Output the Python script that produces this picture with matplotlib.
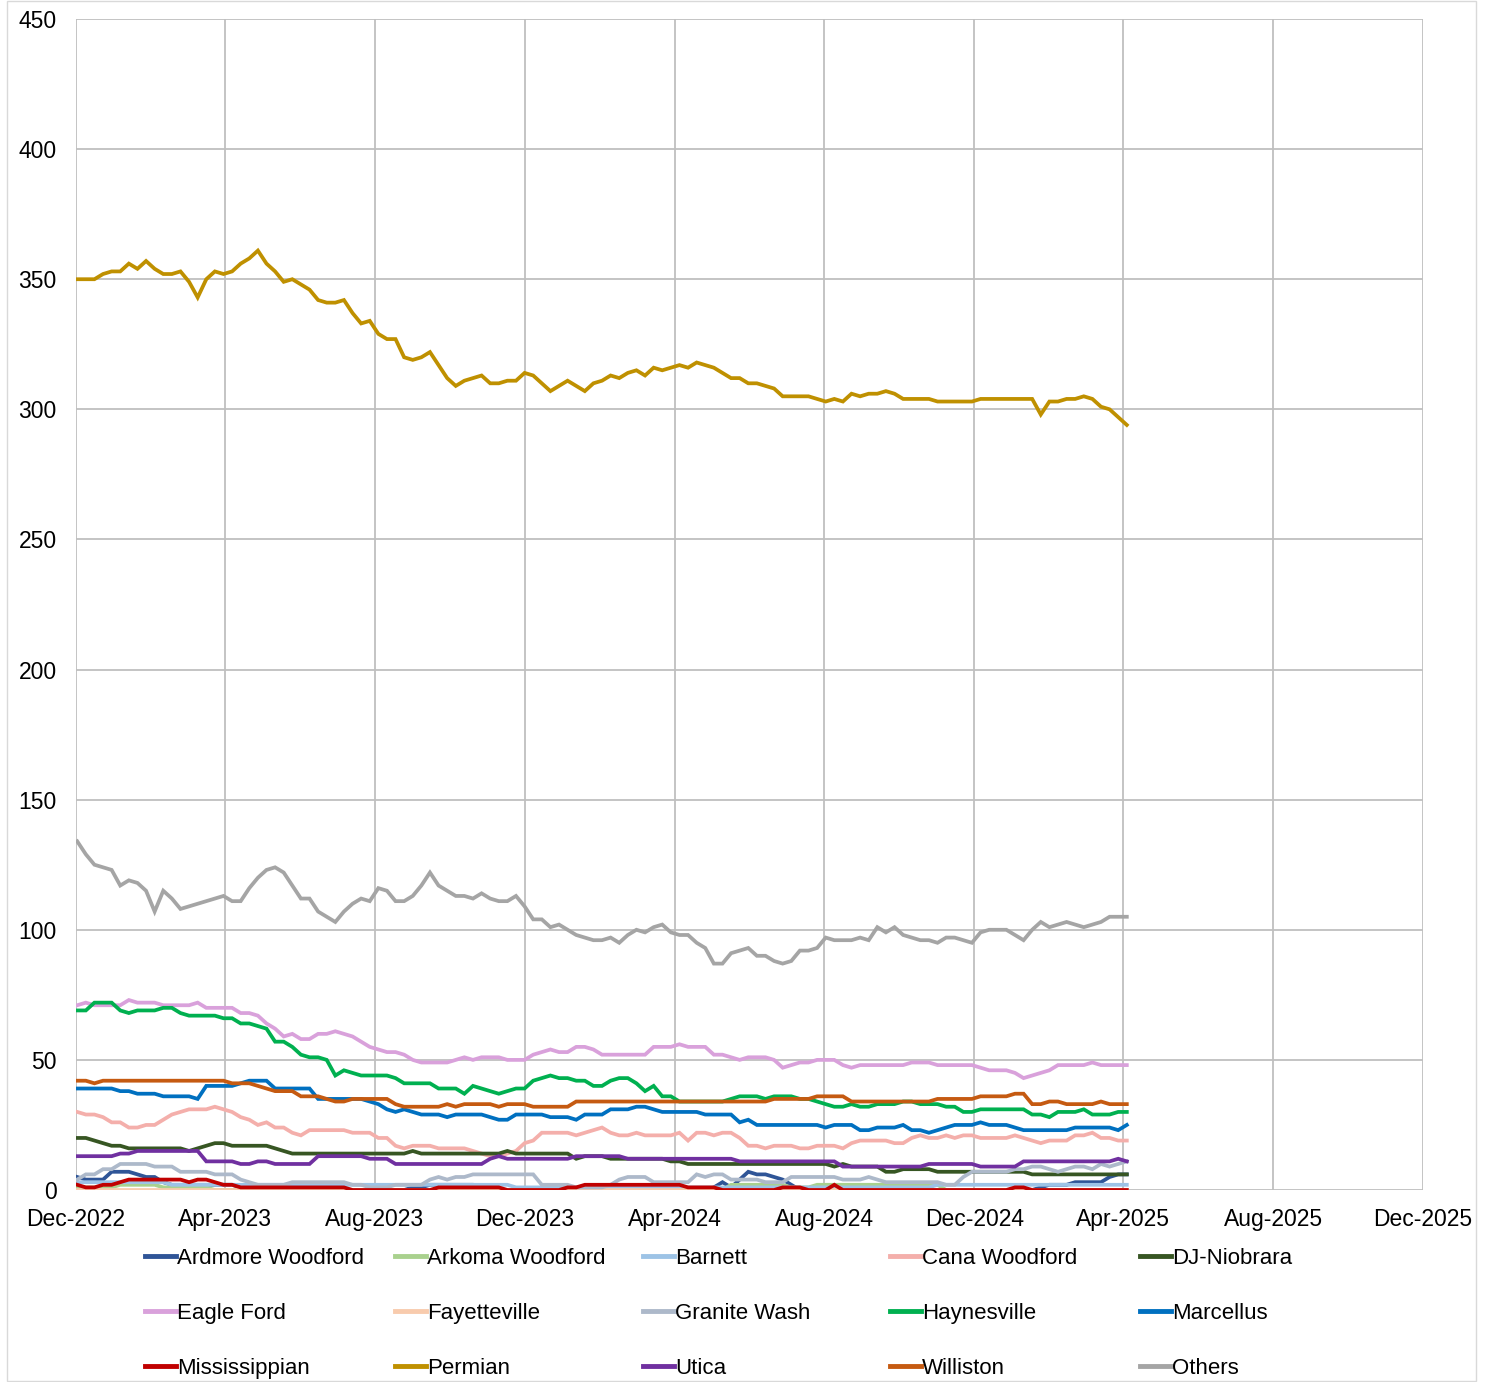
import matplotlib
matplotlib.use("Agg")
import matplotlib.pyplot as plt
import matplotlib.dates as mdates
from matplotlib.patches import Rectangle
import pandas as pd

plt.rcParams['font.family'] = ['Liberation Sans', 'DejaVu Sans']

# weekly rig counts, Dec 2022 - Apr 2025
dates = pd.date_range('2022-12-02', periods=123, freq='7D')

ardmore = ([5, 4, 4, 4, 7, 7, 7, 6, 5, 5, 3] + [2] * 8 + [1] + [0] * 19 + [1, 1] + [2] * 6
           + [0] * 27 + [1, 3, 1, 4, 7, 6, 6, 5, 4, 2] + [0] * 28 + [1] + [2] * 3 + [3] * 4 + [5, 6, 6])
arkoma = ([1] * 5 + [2] * 5 + [1] * 6 + [0] * 60 + [2] * 7 + [1] * 3 + [2] * 15 + [0] * 22)
barnett = [3] * 11 + [2] * 40 + [1] * 49 + [2] * 23
cana = [30, 29, 29, 28, 26, 26, 24, 24, 25, 25, 27, 29, 30, 31, 31, 31, 32, 31, 30, 28,
        27, 25, 26, 24, 24, 22, 21, 23, 23, 23, 23, 23, 22, 22, 22, 20, 20, 17, 16, 17,
        17, 17, 16, 16, 16, 16, 15, 14, 13, 13, 14, 15, 18, 19, 22, 22, 22, 22, 21, 22,
        23, 24, 22, 21, 21, 22, 21, 21, 21, 21, 22, 19, 22, 22, 21, 22, 22, 20, 17, 17,
        16, 17, 17, 17, 16, 16, 17, 17, 17, 16, 18, 19, 19, 19, 19, 18, 18, 20, 21, 20,
        20, 21, 20, 21, 21, 20, 20, 20, 20, 21, 20, 19, 18, 19, 19, 19, 21, 21, 22, 20,
        20, 19, 19]
dj = ([20, 20, 19, 18, 17, 17, 16] + [16] * 6 + [15, 16, 17, 18, 18, 17] + [17] * 4
      + [16, 15, 14] + [14] * 13 + [15, 14] + [14] * 9 + [15, 14] + [14] * 6
      + [12, 13, 13, 13] + [12] * 7 + [11, 11] + [10] * 17 + [9, 10] + [9] * 4 + [7, 7]
      + [8] * 4 + [7] * 11 + [6] * 12)
eagle = [71, 72, 71, 71, 71, 71, 73, 72, 72, 72, 71, 71, 71, 71, 72, 70, 70, 70, 70, 68,
         68, 67, 64, 62, 59, 60, 58, 58, 60, 60, 61, 60, 59, 57, 55, 54, 53, 53, 52, 50,
         49, 49, 49, 49, 50, 51, 50, 51, 51, 51, 50, 50, 50, 52, 53, 54, 53, 53, 55, 55,
         54, 52, 52, 52, 52, 52, 52, 55, 55, 55, 56, 55, 55, 55, 52, 52, 51, 50, 51, 51,
         51, 50, 47, 48, 49, 49, 50, 50, 50, 48, 47, 48, 48, 48, 48, 48, 48, 49, 49, 49,
         48, 48, 48, 48, 48, 47, 46, 46, 46, 45, 43, 44, 45, 46, 48, 48, 48, 48, 49, 48,
         48, 48, 48]
fayetteville = [0] * 123
granite = [4, 6, 6, 8, 8, 10, 10, 10, 10, 9, 9, 9, 7, 7, 7, 7, 6, 6, 6, 4,
           3, 2, 2, 2, 2, 3, 3, 3, 3, 3, 3, 3, 2, 2, 1, 1, 1, 2, 2, 2,
           2, 4, 5, 4, 5, 5, 6, 6, 6, 6, 6, 6, 6, 6, 2, 2, 2, 2, 1, 1,
           1, 1, 2, 4, 5, 5, 5, 3, 3, 3, 3, 3, 6, 5, 6, 6, 4, 4, 4, 4,
           3, 3, 3, 5, 5, 5, 5, 5, 5, 4, 4, 4, 5, 4, 3, 3, 3, 3, 3, 3,
           3, 2, 2, 5, 7, 7, 7, 7, 7, 8, 8, 9, 9, 8, 7, 8, 9, 9, 8, 10,
           9, 10, 11]
haynesville = [69, 69, 72, 72, 72, 69, 68, 69, 69, 69, 70, 70, 68, 67, 67, 67, 67, 66, 66, 64,
               64, 63, 62, 57, 57, 55, 52, 51, 51, 50, 44, 46, 45, 44, 44, 44, 44, 43, 41, 41,
               41, 41, 39, 39, 39, 37, 40, 39, 38, 37, 38, 39, 39, 42, 43, 44, 43, 43, 42, 42,
               40, 40, 42, 43, 43, 41, 38, 40, 36, 36, 34, 34, 34, 34, 34, 34, 35, 36, 36, 36,
               35, 36, 36, 36, 35, 35, 34, 33, 32, 32, 33, 32, 32, 33, 33, 33, 34, 34, 33, 33,
               33, 32, 32, 30, 30, 31, 31, 31, 31, 31, 31, 29, 29, 28, 30, 30, 30, 31, 29, 29,
               29, 30, 30]
marcellus = [39, 39, 39, 39, 39, 38, 38, 37, 37, 37, 36, 36, 36, 36, 35, 40, 40, 40, 40, 41,
             42, 42, 42, 39, 39, 39, 39, 39, 35, 35, 35, 35, 35, 35, 34, 33, 31, 30, 31, 30,
             29, 29, 29, 28, 29, 29, 29, 29, 28, 27, 27, 29, 29, 29, 29, 28, 28, 28, 27, 29,
             29, 29, 31, 31, 31, 32, 32, 31, 30, 30, 30, 30, 30, 29, 29, 29, 29, 26, 27, 25,
             25, 25, 25, 25, 25, 25, 25, 24, 25, 25, 25, 23, 23, 24, 24, 24, 25, 23, 23, 22,
             23, 24, 25, 25, 25, 26, 25, 25, 25, 24, 23, 23, 23, 23, 23, 23, 24, 24, 24, 24,
             24, 23, 25]
mississippian = ([2, 1, 1, 2, 2, 3] + [4] * 7 + [3, 4, 4, 3, 2, 2] + [1] * 13 + [0] * 10
                 + [1] * 8 + [0] * 7 + [1, 1] + [2] * 12 + [1] * 4 + [0] * 7 + [1] * 3
                 + [0] * 3 + [2] + [0] * 20 + [1, 1] + [0] * 12)
permian = [350, 350, 350, 352, 353, 353, 356, 354, 357, 354, 352, 352, 353, 349, 343, 350, 353, 352, 353, 356,
           358, 361, 356, 353, 349, 350, 348, 346, 342, 341, 341, 342, 337, 333, 334, 329, 327, 327, 320, 319,
           320, 322, 317, 312, 309, 311, 312, 313, 310, 310, 311, 311, 314, 313, 310, 307, 309, 311, 309, 307,
           310, 311, 313, 312, 314, 315, 313, 316, 315, 316, 317, 316, 318, 317, 316, 314, 312, 312, 310, 310,
           309, 308, 305, 305, 305, 305, 304, 303, 304, 303, 306, 305, 306, 306, 307, 306, 304, 304, 304, 304,
           303, 303, 303, 303, 303, 304, 304, 304, 304, 304, 304, 304, 298, 303, 303, 304, 304, 305, 304, 301,
           300, 297, 294]
utica = ([13] * 5 + [14, 14] + [15] * 8 + [11] * 4 + [10, 10, 11, 11] + [10] * 5 + [13] * 6
         + [12] * 3 + [10] * 11 + [12, 13] + [12] * 8 + [13] * 6 + [12] * 13 + [11] * 12
         + [9] * 10 + [10] * 6 + [9] * 5 + [11] * 11 + [12, 11])
williston = ([42, 42, 41, 42] + [42] * 14 + [41, 41, 41, 40, 39, 38, 38, 38, 36, 36, 36, 35, 34, 34,
             35, 35, 35, 35, 35, 33, 32, 32, 32, 32, 32, 33, 32, 33, 33, 33, 33, 32, 33, 33, 33,
             32, 32, 32, 32, 32, 34] + [34] * 22 + [35] * 5 + [36] * 4 + [34] * 10 + [35] * 5
             + [36] * 4 + [37, 37, 33, 33, 34, 34, 33, 33, 33, 33, 34, 33, 33, 33])
others = [134, 129, 125, 124, 123, 117, 119, 118, 115, 107, 115, 112, 108, 109, 110, 111, 112, 113, 111, 111,
          116, 120, 123, 124, 122, 117, 112, 112, 107, 105, 103, 107, 110, 112, 111, 116, 115, 111, 111, 113,
          117, 122, 117, 115, 113, 113, 112, 114, 112, 111, 111, 113, 109, 104, 104, 101, 102, 100, 98, 97,
          96, 96, 97, 95, 98, 100, 99, 101, 102, 99, 98, 98, 95, 93, 87, 87, 91, 92, 93, 90,
          90, 88, 87, 88, 92, 92, 93, 97, 96, 96, 96, 97, 96, 101, 99, 101, 98, 97, 96, 96,
          95, 97, 97, 96, 95, 99, 100, 100, 100, 98, 96, 100, 103, 101, 102, 103, 102, 101, 102, 103,
          105, 105, 105]

names = ['Ardmore Woodford', 'Arkoma Woodford', 'Barnett', 'Cana Woodford', 'DJ-Niobrara',
         'Eagle Ford', 'Fayetteville', 'Granite Wash', 'Haynesville', 'Marcellus',
         'Mississippian', 'Permian', 'Utica', 'Williston', 'Others']
series = [ardmore, arkoma, barnett, cana, dj, eagle, fayetteville, granite, haynesville,
          marcellus, mississippian, permian, utica, williston, others]
colors = ['#2F5597', '#A9D18E', '#9DC3E6', '#F4AFAB', '#375623',
          '#D9A1DB', '#F8CBAD', '#ADB9CA', '#00B050', '#0070C0',
          '#C00000', '#BF9000', '#7030A0', '#C55A11', '#A5A5A5']

fig = plt.figure(figsize=(14.91, 13.82), dpi=100)
ax = fig.add_axes([76 / 1491, 1 - 1190 / 1382, (1423 - 76) / 1491, (1190 - 19) / 1382])

lines = []
for name, vals, c in zip(names, series, colors):
    ln, = ax.plot(dates, vals, color=c, lw=2.7, label=name, solid_joinstyle='miter')
    lines.append(ln)

ax.set_ylim(0, 450)
ax.set_yticks(range(0, 451, 50))
ax.set_xlim(pd.Timestamp('2022-12-01'), pd.Timestamp('2025-12-01'))
ax.set_xticks(pd.date_range('2022-12-01', '2025-12-01', freq='4MS'))
ax.xaxis.set_major_formatter(mdates.DateFormatter('%b-%Y'))
ax.grid(True, color='#BFBFBF', lw=1.3)
ax.set_axisbelow(True)
for s in ax.spines.values():
    s.set_visible(False)
ax.tick_params(axis='both', length=0, labelsize=16.5)
ax.tick_params(axis='y', pad=14)
ax.tick_params(axis='x', pad=13)

# legend: five columns, three rows, read across
col_x = [145, 395, 643, 890, 1140]
for j, x in enumerate(col_x):
    idx = [j, j + 5, j + 10]
    leg = fig.legend([lines[i] for i in idx], [names[i] for i in idx],
                     loc='upper left', bbox_to_anchor=(x / 1491, 1 - 1248 / 1382),
                     frameon=False, fontsize=16, borderpad=0, borderaxespad=0,
                     handlelength=1.4, handletextpad=0.05, labelspacing=1.53)
    for h in leg.get_lines():
        h.set_linewidth(3.5)

fig.add_artist(Rectangle((7 / 1491, 0.001), (1476 - 7) / 1491, 0.998, transform=fig.transFigure,
                         fill=False, edgecolor='#D9D9D9', lw=1))

fig.savefig('out.png', dpi=100)
